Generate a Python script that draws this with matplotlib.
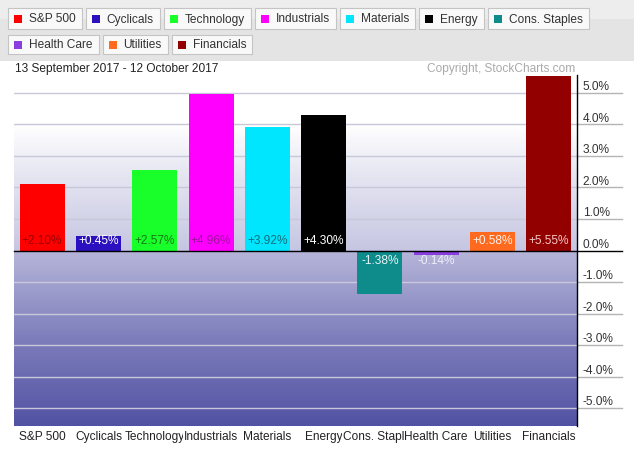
import numpy as np
import matplotlib as mpl
mpl.use("Agg")
import matplotlib.pyplot as plt
from matplotlib.colors import LinearSegmentedColormap
from matplotlib.patches import Rectangle
from matplotlib.transforms import ScaledTranslation

mpl.rcParams.update({
    "font.family": ["Liberation Sans", "DejaVu Sans"],
    "font.size": 8.6,
})

# data
sectors = ["S&P 500", "Cyclicals", "Technology", "Industrials", "Materials",
           "Energy", "Cons. Staples", "Health Care", "Utilities", "Financials"]
changes = [2.10, 0.45, 2.57, 4.96, 3.92, 4.30, -1.38, -0.14, 0.58, 5.55]
bar_colors = ["#ff0000", "#2b10c0", "#19ff2a", "#ff00ff", "#00e6ff",
              "#000000", "#0e8c8c", "#8a3ee0", "#ff6a1e", "#920000"]
label_colors = ["#9a0000", "#ffffff", "#157a15", "#a0109e", "#11707a",
                "#ffffff", "#e6f4f4", "#eeeef8", "#fff2e8", "#f4c8c8"]
yticks = [-5, -4, -3, -2, -1, 0, 1, 2, 3, 4, 5]
period = "13 September 2017 - 12 October 2017"
credit = "Copyright, StockCharts.com"

W, H = 634, 452
fig = plt.figure(figsize=(W / 100, H / 100), dpi=100)
fig.patch.set_facecolor("white")

L, R, T, B = 14, 577, 76, 427
ax = fig.add_axes([L / W, 1 - B / H, (R - L) / W, (B - T) / H])
n = len(sectors)
ylim = 5.57
ax.set_xlim(-0.5, n - 0.5)
ax.set_ylim(-ylim, ylim)

# background gradient
cmap = LinearSegmentedColormap.from_list("bg", [
    (0.0, "#5252a4"), (0.25, "#7e7ebc"), (0.5, "#b6b6da"),
    (0.5001, "#c6c6e2"), (0.72, "#e6e6f2"), (0.86, "#ffffff"), (1.0, "#ffffff")])
grad = np.linspace(0, 1, 400).reshape(-1, 1)
ax.imshow(grad, cmap=cmap, aspect="auto", origin="lower",
          extent=[-0.5, n - 0.5, -ylim, ylim], zorder=0)

# grid lines running past the axis under the tick labels
ytr = ax.get_yaxis_transform()
xend = (622 - L) / (R - L)
for v in yticks:
    if v == 0:
        continue
    ax.plot([0, 1], [v, v], color="#c8c8da", lw=1, transform=ytr, zorder=1)
    ax.plot([1, xend], [v, v], color="#b4b4b4", lw=1, transform=ytr,
            clip_on=False, zorder=1)

x = np.arange(n)
ax.bar(x, changes, width=0.8, color=bar_colors, zorder=2)
ax.plot([0, xend], [0, 0], color="black", lw=1, transform=ytr,
        clip_on=False, zorder=3)

for i, v in enumerate(changes):
    off = 7.2 if v >= 0 else -7.2
    ax.annotate(f"{v:+.2f}%", (i, 0), xytext=(0, off), textcoords="offset points",
                ha="center", va="center", color=label_colors[i], zorder=4)

for s in ["top", "left", "bottom"]:
    ax.spines[s].set_visible(False)
ax.spines["right"].set_color("black")
ax.spines["right"].set_linewidth(1)

ax.yaxis.tick_right()
ax.set_yticks(yticks)
ax.set_yticklabels([f"{v:.1f}%" for v in yticks])
ax.tick_params(axis="y", length=0, pad=4, labelcolor="#333333")
shift = ScaledTranslation(0, 6 / 72, fig.dpi_scale_trans)
for lab in ax.get_yticklabels():
    lab.set_transform(lab.get_transform() + shift)

# each category label paints over the tail of the one before it
ax.set_xticks(x)
ax.set_xticklabels(sectors)
ax.tick_params(axis="x", length=0, pad=3, labelcolor="#222222")
for lab in ax.get_xticklabels():
    lab.set_bbox(dict(facecolor="white", edgecolor="none", pad=0.5))

# header band with legend buttons
def px(xp, yp):
    return xp / W, 1 - yp / H

fig.patches.append(Rectangle(px(0, 62), 1, 62 / H, transform=fig.transFigure,
                             facecolor="#e4e4e4", edgecolor="none", zorder=0))
fig.patches.append(Rectangle(px(0, 20), 1, 20 / H, transform=fig.transFigure,
                             facecolor="#ededed", edgecolor="none", zorder=0))

renderer = fig.canvas.get_renderer()
bx, row = 8, 0
rows_y = [(9, 30), (36, 55)]
for name, col in zip(sectors, bar_colors):
    t = fig.text(0, 0, name, fontsize=8.6)
    tw = t.get_window_extent(renderer).width
    t.remove()
    bw = tw + 27
    if bx + bw > 600:
        row += 1
        bx = 8
    y0, y1 = rows_y[row]
    # shadow + button
    fig.patches.append(Rectangle(px(bx + 1, y1 + 1), bw / W, (y1 - y0) / H,
                                 transform=fig.transFigure, facecolor="#a8a8a8",
                                 edgecolor="none", zorder=1))
    fig.patches.append(Rectangle(px(bx, y1), bw / W, (y1 - y0) / H,
                                 transform=fig.transFigure, facecolor="#f9f9f9",
                                 edgecolor="#c4c4c4", lw=0.8, zorder=2))
    ym = (y0 + y1) / 2
    fig.patches.append(Rectangle(px(bx + 6, ym + 4), 8 / W, 8 / H,
                                 transform=fig.transFigure, facecolor=col,
                                 edgecolor="none", zorder=3))
    fig.text(*px(bx + 21, ym), name, va="center", ha="left", color="#333333",
             zorder=4)
    bx += bw + 4

fig.text(*px(15, 69), period, va="center", ha="left", color="#222222")
fig.text(*px(575, 69), credit, va="center", ha="right", color="#aaaaaa")

fig.savefig("out.png", dpi=100)
